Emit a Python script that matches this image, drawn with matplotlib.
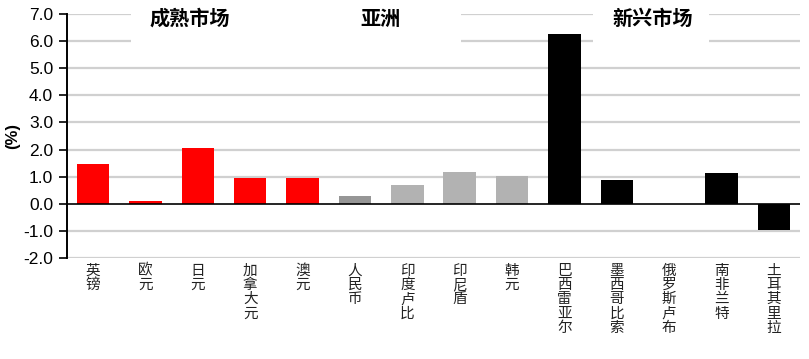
import matplotlib
matplotlib.use("Agg")
import matplotlib.pyplot as plt
from matplotlib.patches import Rectangle

plt.rcParams['font.family'] = ['Liberation Sans', 'Noto Sans CJK SC', 'DejaVu Sans']

categories = ["英镑", "欧元", "日元", "加拿大元", "澳元", "人民币", "印度卢比", "印尼盾", "韩元",
              "巴西雷亚尔", "墨西哥比索", "俄罗斯卢布", "南非兰特", "土耳其里拉"]
values = [1.45, 0.10, 2.07, 0.96, 0.96, 0.27, 0.70, 1.18, 1.03, 6.27, 0.89, 0.0, 1.14, -0.96]
colors = ["#FF0000"] * 5 + ["#969696"] + ["#B2B2B2"] * 3 + ["#000000"] * 5
group_titles = ["成熟市场", "亚洲", "新兴市场"]
yticks = [-2.0, -1.0, 0.0, 1.0, 2.0, 3.0, 4.0, 5.0, 6.0, 7.0]

W, H = 809, 359
fig = plt.figure(figsize=(W / 100, H / 100), dpi=100)
ax = fig.add_axes([67 / W, 1 - 258 / H, (800 - 67) / W, (258 - 14) / H])

x = list(range(len(categories)))
ax.bar(x, values, width=0.62, color=colors, zorder=3)
ax.set_xlim(-0.5, len(categories) - 0.5)
ax.set_ylim(-2.0, 7.0)
ax.set_yticks(yticks)
ax.set_yticklabels([f"{v:.1f}" for v in yticks], fontsize=12.5, family='Liberation Sans')
for v in yticks:
    if v != 0:
        ax.axhline(v, color="#D0D0D0", lw=1.6, zorder=1)
ax.axhline(0, color="black", lw=1.2, zorder=4)

ax.set_xticks(x)
ax.set_xticklabels(["\n".join(c) for c in categories], family='Noto Sans CJK SC',
                   fontsize=10.5, linespacing=1.03, va='top', color="#222222")
ax.tick_params(axis='x', length=0, pad=4)
ax.tick_params(axis='y', direction='out', length=6, width=1.2, pad=4)

for s in ['top', 'right', 'bottom']:
    ax.spines[s].set_visible(False)
ax.spines['left'].set_linewidth(1.4)
ax.spines['left'].set_zorder(5)

ax.set_ylabel("(%)", fontsize=12, fontweight='bold', labelpad=2)

# white boxes behind group titles
for (x0, x1) in [(0.72, 7.02), (9.55, 11.76)]:
    ax.add_patch(Rectangle((x0, 5.67), x1 - x0, 1.6, facecolor='white', edgecolor='none',
                           zorder=2, clip_on=False))

for t, xc in zip(group_titles, [1.85, 5.48, 10.69]):
    ax.text(xc, 6.83, t, ha='center', va='center', fontsize=14.5, fontweight='bold',
            family='Noto Sans CJK SC', zorder=6)

fig.savefig("out.png", dpi=100)
